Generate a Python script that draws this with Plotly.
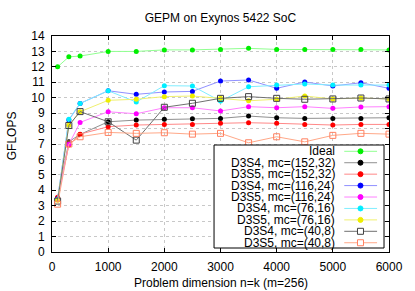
import plotly.graph_objects as go

# ---------------- data ----------------
x_dims = [100, 300, 500, 1000, 1500, 2000, 2500, 3000, 3500, 4000, 4500, 5000, 5500, 6000]

ideal    = [12.0, 12.65, 12.7, 13.0, 13.0, 13.1, 13.1, 13.13, 13.2, 13.13, 13.13, 13.13, 13.13, 13.1]
d3s4_152 = [3.5, 7.15, 7.62, 8.44, 8.55, 8.6, 8.64, 8.66, 8.81, 8.7, 8.66, 8.66, 8.66, 8.7]
d3s5_152 = [3.55, 6.93, 7.64, 8.12, 8.23, 8.27, 8.27, 8.34, 8.38, 8.34, 8.27, 8.23, 8.27, 8.27]
d3s4_116 = [3.45, 8.55, 9.63, 10.45, 10.22, 10.37, 10.41, 11.08, 11.15, 10.61, 11.02, 10.76, 10.97, 10.61]
d3s5_116 = [3.4, 6.98, 8.4, 9.09, 8.96, 9.35, 9.35, 9.14, 9.42, 9.35, 9.42, 9.31, 9.4, 9.42]
d3s4_76  = [3.4, 8.6, 9.63, 10.45, 9.72, 10.78, 10.76, 9.78, 10.71, 10.82, 10.89, 10.82, 10.82, 10.82]
d3s5_76  = [3.35, 8.22, 9.09, 9.83, 9.9, 10.07, 10.11, 9.96, 9.8, 9.9, 10.11, 9.92, 9.98, 9.92]
d3s4_40  = [3.3, 8.2, 9.1, 8.44, 7.25, 9.38, 9.64, 9.96, 10.07, 9.96, 9.9, 9.92, 9.98, 9.92]
d3s5_40  = [3.1, 7.0, 7.47, 7.75, 7.69, 7.73, 7.64, 7.69, 7.08, 7.47, 7.14, 7.56, 7.69, 7.64]

series_names = ["Ideal", "D3S4, mc=(152,32)", "D3S5, mc=(152,32)", "D3S4, mc=(116,24)",
                "D3S5, mc=(116,24)", "D3S4, mc=(76,16)", "D3S5, mc=(76,16)",
                "D3S4, mc=(40,8)", "D3S5, mc=(40,8)"]
series_values = [ideal, d3s4_152, d3s5_152, d3s4_116, d3s5_116, d3s4_76, d3s5_76, d3s4_40, d3s5_40]

x_tick_vals = [0, 1000, 2000, 3000, 4000, 5000, 6000]
y_tick_vals = list(range(0, 15))

title_text = "GEPM on Exynos 5422 SoC"
x_title = "Problem dimension n=k (m=256)"
y_title = "GFLOPS"

# ---------------- styles ----------------
marker_colors = ["#00ee00", "#000000", "#ff0000", "#0000ff", "#ff00ff", "#00eeff", "#eeee00", "#404040", "#ff8060"]
line_colors   = ["#90ff90", "#909090", "#ff8888", "#9090ff", "#ff80ff", "#80eeff", "#f0f070", "#707070", "#ffa888"]
symbols = ["circle"] * 7 + ["square-open"] * 2

FONT = "Liberation Sans, Arial, sans-serif"
W, H = 415, 291
ML, MR, MT, MB = 52, 24, 36, 39
PW, PH = W - ML - MR, H - MT - MB

fig = go.Figure()
for name, vals, mc, lc, sym in zip(series_names, series_values, marker_colors, line_colors, symbols):
    is_open = sym.endswith("open")
    fig.add_trace(go.Scatter(
        x=x_dims, y=vals, name=name, mode="lines+markers",
        line=dict(color=lc, width=1),
        marker=dict(symbol=sym, color=mc, size=6 if is_open else 5,
                    line=dict(width=1, color=mc) if is_open else dict(width=0)),
        showlegend=False,
    ))

# ---------------- custom legend (gnuplot style: text right, sample on right) ----------------
def px_x(p):
    return (p - ML) / PW

def px_y(p):
    return (H - MB - p) / PH

shapes = [dict(type="rect", xref="paper", yref="paper",
               x0=px_x(215), x1=px_x(386), y0=px_y(248), y1=px_y(145),
               fillcolor="white", line=dict(color="black", width=1), layer="above")]
annotations = []
row0, row_step = 151.3, 11.43
for i, (name, mc, lc, sym) in enumerate(zip(series_names, marker_colors, line_colors, symbols)):
    yc = px_y(row0 + i * row_step)
    annotations.append(dict(text=name, xref="paper", yref="paper", x=px_x(338), y=yc,
                            xanchor="right", yanchor="middle", showarrow=False, borderpad=0,
                            font=dict(family=FONT, size=12, color="black")))
    shapes.append(dict(type="line", xref="paper", yref="paper", x0=px_x(346), x1=px_x(379),
                       y0=yc, y1=yc, line=dict(color=lc, width=1), layer="above"))
    is_open = sym.endswith("open")
    r = 3 if is_open else 2.5
    shapes.append(dict(type="rect" if is_open else "circle", xref="paper", yref="paper",
                       xsizemode="pixel", ysizemode="pixel", xanchor=px_x(362.3), yanchor=yc,
                       x0=-r, x1=r, y0=-r, y1=r,
                       fillcolor="white" if is_open else mc,
                       line=dict(color=mc, width=1), layer="above"))

annotations.append(dict(text=x_title, xref="paper", yref="paper", x=0.5, y=px_y(283),
                        xanchor="center", yanchor="middle", showarrow=False,
                        font=dict(family=FONT, size=12, color="black")))
annotations.append(dict(text=y_title, xref="paper", yref="paper", x=px_x(12), y=px_y(136),
                        xanchor="center", yanchor="middle", showarrow=False, textangle=-90,
                        font=dict(family=FONT, size=12, color="black")))

axis_common = dict(showline=True, linecolor="black", linewidth=1, mirror="ticks",
                   ticks="inside", ticklen=4, tickcolor="black", tickwidth=1,
                   showgrid=True, gridcolor="#c8c8c8", griddash="dot", gridwidth=1,
                   zeroline=False, tickfont=dict(family=FONT, size=12, color="black"))

fig.update_layout(
    width=W, height=H,
    margin=dict(l=ML, r=MR, t=MT, b=MB, pad=0),
    paper_bgcolor="white", plot_bgcolor="white",
    font=dict(family=FONT, size=12, color="black"),
    title=dict(text=title_text, x=0.5, xref="paper", xanchor="center",
               y=1 - 18 / H, yref="container", yanchor="middle",
               font=dict(family=FONT, size=12, color="black")),
    xaxis=dict(range=[0, 6000], tickvals=x_tick_vals, ticklabelstandoff=4, **axis_common),
    yaxis=dict(range=[0, 14], tickvals=y_tick_vals, ticklabelstandoff=4, **axis_common),
    shapes=shapes, annotations=annotations, showlegend=False,
)

fig.write_html("out.html", config={"displayModeBar": False},
               post_script="document.body.style.margin='0';document.body.style.overflow='hidden';")
